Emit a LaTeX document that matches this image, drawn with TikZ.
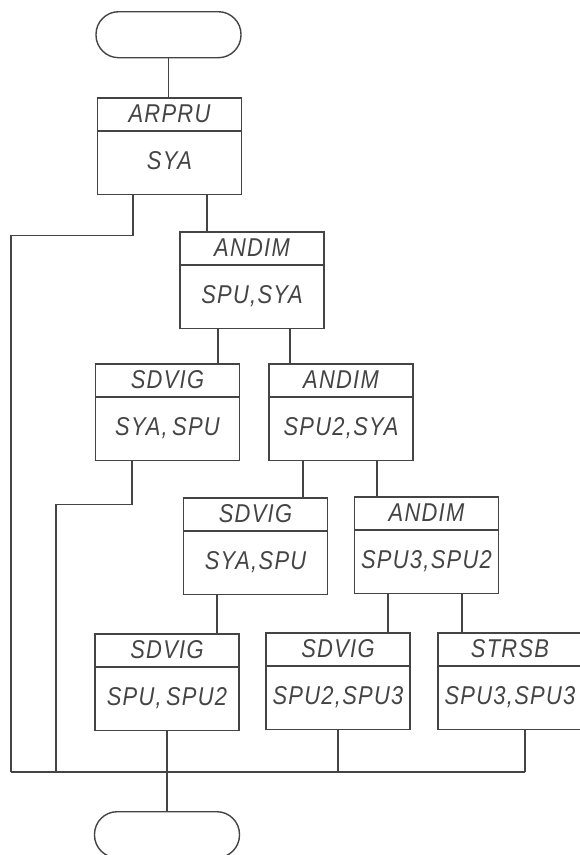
\documentclass[tikz,border=0pt]{standalone}
\usepackage{fontspec}
\newfontfamily\flowfont{Liberation Sans}[FakeStretch=0.85,LetterSpace=5]
\usetikzlibrary{shapes.multipart,calc}
\definecolor{ink}{HTML}{444444}

\newcommand{\ttlstrut}{\rule[-0.21cm]{0pt}{0.93cm}}
\newcommand{\bdystrut}{\rule[-0.735cm]{0pt}{1.86cm}}

\begin{document}
\begin{tikzpicture}[
  x=0.03cm, y=-0.03cm,
  block/.style={rectangle split, rectangle split parts=2, draw=ink, line width=1.5pt, text=ink,
    minimum width=4.32cm, inner xsep=0pt, inner ysep=0pt, anchor=north,
    font=\flowfont\itshape\fontsize{22}{26}\selectfont},
  terminal/.style={rectangle, draw=ink, line width=1.2pt, rounded corners=0.68cm,
    minimum width=4.35cm, minimum height=1.38cm, anchor=north},
  link/.style={draw=ink, line width=1.1pt}
]
  \useasboundingbox (0,0) rectangle (579,855);
  \node[terminal] (start) at (168.5,11) {};
  \node[block] (arpru)  at (169.5,97)  {\ttlstrut ARPRU\nodepart{two}\bdystrut SYA};
  \node[block] (andimA) at (252,231)   {\ttlstrut ANDIM\nodepart{two}\bdystrut SPU,SYA};
  \node[block] (sdvigA) at (167.5,363) {\ttlstrut SDVIG\nodepart{two}\bdystrut SYA,\,SPU};
  \node[block] (andimB) at (341,363)   {\ttlstrut ANDIM\nodepart{two}\bdystrut SPU2,SYA};
  \node[block] (sdvigB) at (255.5,497) {\ttlstrut SDVIG\nodepart{two}\bdystrut SYA,SPU};
  \node[block] (andimC) at (426.5,496) {\ttlstrut ANDIM\nodepart{two}\bdystrut SPU3,SPU2};
  \node[block] (sdvigC) at (167,633)   {\ttlstrut SDVIG\nodepart{two}\bdystrut SPU,\,SPU2};
  \node[block] (sdvigD) at (338,632)   {\ttlstrut SDVIG\nodepart{two}\bdystrut SPU2,SPU3};
  \node[block] (strsb)  at (510,632)   {\ttlstrut STRSB\nodepart{two}\bdystrut SPU3,SPU3};
  \node[terminal] (stop) at (167,811) {};
  % common exit line
  \coordinate (busL) at (11,772);
  \coordinate (busM) at (56,772);
  \coordinate (busR) at (525,772);
  \draw[link] (start.south) -- (start.south |- arpru.north);
  \draw[link] ($(arpru.south)+(-36.5,0)$) -- ++(0,40) -| (busL);
  \draw[link] ($(arpru.south)+(37.5,0)$) -- ($(andimA.north)+(-45,0)$);
  \draw[link] ($(andimA.south)+(-34,0)$) -- ($(sdvigA.north)+(50.5,0)$);
  \draw[link] ($(andimA.south)+(38,0)$) -- ($(andimB.north)+(-51,0)$);
  \draw[link] ($(sdvigA.south)+(-35.5,0)$) -- ++(0,43) -| (busM);
  \draw[link] ($(andimB.south)+(-38,0)$) -- ($(sdvigB.north)+(47.5,0)$);
  \draw[link] ($(andimB.south)+(36,0)$) -- ($(andimC.north)+(-49.5,0)$);
  \draw[link] ($(sdvigB.south)+(-38.5,0)$) -- ($(sdvigC.north)+(50,0)$);
  \draw[link] ($(andimC.south)+(-38.5,0)$) -- ($(sdvigD.north)+(50,0)$);
  \draw[link] ($(andimC.south)+(35.5,0)$) -- ($(strsb.north)+(-48,0)$);
  \draw[link] (busL) -- (busR);
  \draw[link] (sdvigC.south) -- (stop.north);
  \draw[link] (sdvigD.south) -- (sdvigD.south |- busR);
  \draw[link] ($(strsb.south)+(15,0)$) -- (busR);
\end{tikzpicture}
\end{document}
